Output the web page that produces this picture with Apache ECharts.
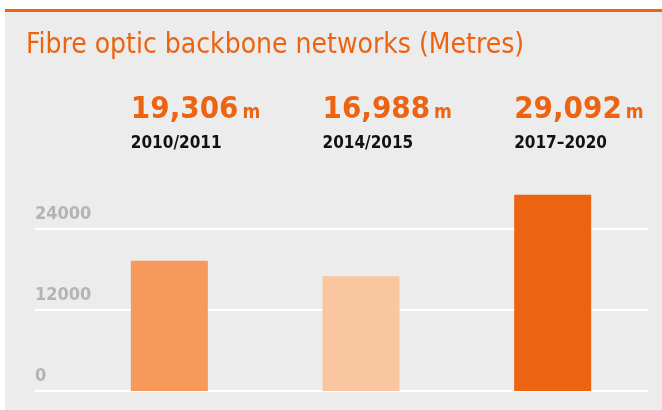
<!DOCTYPE html>
<html><head><meta charset="utf-8">
<script src="https://cdn.jsdelivr.net/npm/echarts@6/dist/echarts.min.js"></script>
<style>html,body{margin:0;padding:0;background:#fff}#c{width:662px;height:410px}</style>
</head><body><div id="c"></div>
<script>
const title = 'Fibre optic backbone networks (Metres)';
const categories = ['2010/2011', '2014/2015', '2017\u20132020'];
const values = [19306, 16988, 29092];
const unit = 'm';
const barColors = ['#F59A5B', '#F9C6A0', '#EC6412'];
const yTicks = [0, 12000, 24000];

const FONT = '"DejaVu Sans Condensed", "DejaVu Sans", sans-serif';
const ORANGE = '#EC6412';
const chart = echarts.init(document.getElementById('c'), null, {renderer: 'canvas'});

const gridTop = 188.5, gridH = 202.5;
const option = {
  backgroundColor: '#fff',
  animation: false,
  grid: [
    {left: 35, right: 14, top: gridTop, height: gridH},
    {left: 73.5, right: 13.5, top: gridTop, height: gridH}
  ],
  xAxis: [
    {type: 'category', gridIndex: 0, data: categories, show: false},
    {type: 'category', gridIndex: 1, data: categories, show: false}
  ],
  yAxis: [
    {type: 'value', gridIndex: 0, min: 0, max: 30000, interval: yTicks[1] - yTicks[0],
     axisLine: {show: false}, axisTick: {show: false},
     splitLine: {show: true, showMaxLine: false, lineStyle: {color: '#ffffff', width: 2}},
     axisLabel: {inside: true, margin: 0, showMaxLabel: false, verticalAlign: 'bottom',
       formatter: v => String(v),
       padding: [0, 0, 6, 0], color: '#B4B4B4', fontFamily: FONT, fontWeight: 'bold', fontSize: 18}},
    {type: 'value', gridIndex: 1, min: 0, max: 30000, interval: yTicks[1] - yTicks[0], show: false,
     splitLine: {show: false}}
  ],
  series: [{
    type: 'bar', xAxisIndex: 1, yAxisIndex: 1, barWidth: 77,
    data: values.map((v, i) => ({value: v, itemStyle: {color: barColors[i]}}))
  }],
  graphic: []
};
chart.setOption(option);

function fmt(v) { return v.toLocaleString('en-US'); }
const graphics = [
  {type: 'rect', z: -10, shape: {x: 5, y: 0, width: 657, height: 410}, style: {fill: '#ECECEC'}},
  {type: 'rect', z: -9, shape: {x: 0, y: 0, width: 662, height: 9}, style: {fill: '#ffffff'}},
  {type: 'rect', z: -8, shape: {x: 5, y: 9, width: 657, height: 3}, style: {fill: ORANGE}},
  {type: 'text', x: 26, y: 46, style: {text: title, fill: ORANGE, font: '500 28px ' + FONT, verticalAlign: 'middle'}}
];
categories.forEach((c, i) => {
  const px = chart.convertToPixel({xAxisIndex: 1}, c);
  const left = px - 38.5;
  graphics.push({type: 'text', x: left, y: 110, style: {
    rich: {
      n: {font: 'bold 31px ' + FONT, fill: ORANGE},
      u: {font: 'bold 19px ' + FONT, fill: ORANGE, padding: [7, 0, 0, 4]}
    },
    text: '{n|' + fmt(values[i]) + '}{u|' + unit + '}', verticalAlign: 'middle'
  }});
  graphics.push({type: 'text', x: left, y: 144, style: {
    text: c, fill: '#111', font: '600 17px ' + FONT, verticalAlign: 'middle'}});
});
chart.setOption({graphic: graphics});
</script></body></html>
